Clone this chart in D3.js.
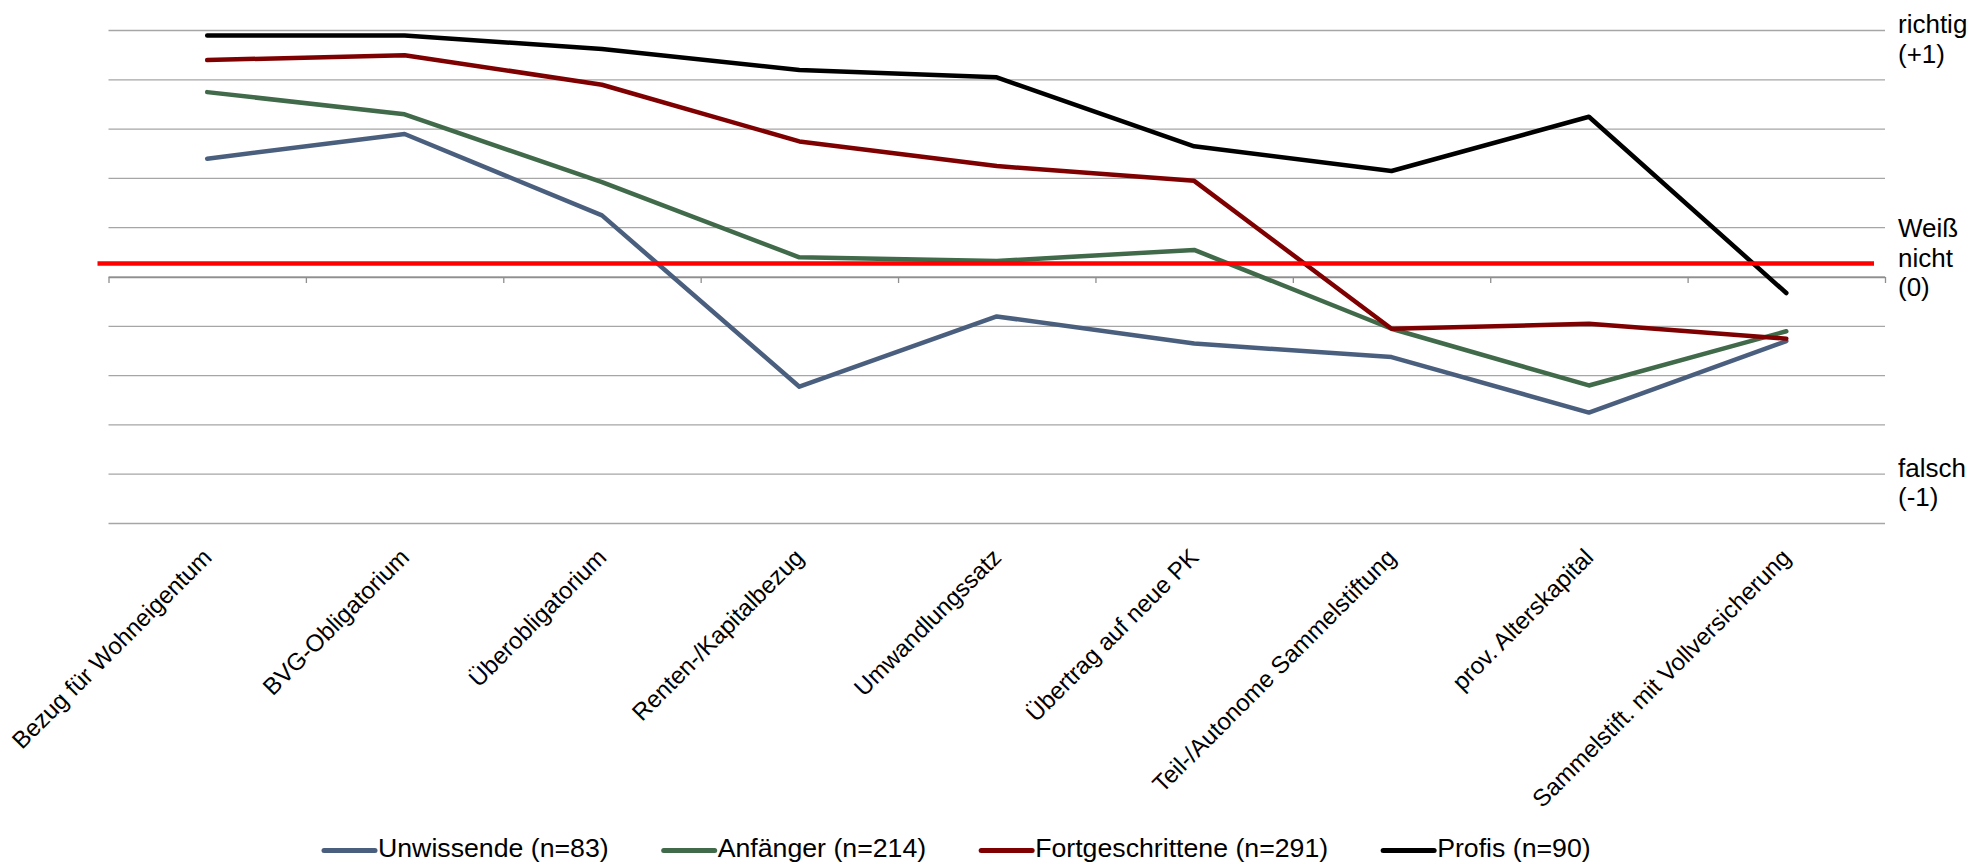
<!DOCTYPE html>
<html>
<head>
<meta charset="utf-8">
<script src="https://cdn.jsdelivr.net/npm/d3@7"></script>
<style>
  body { margin: 0; background: #fff; }
  text { font-family: "Liberation Sans", Arial, Helvetica, sans-serif; fill: #000; }
</style>
</head>
<body>
<svg id="chart" width="1987" height="864"></svg>
<script>
// ---------------- data ----------------
const categories = [
  "Bezug für Wohneigentum",
  "BVG-Obligatorium",
  "Überobligatorium",
  "Renten-/Kapitalbezug",
  "Umwandlungssatz",
  "Übertrag auf neue PK",
  "Teil-/Autonome Sammelstiftung",
  "prov. Alterskapital",
  "Sammelstift. mit Vollversicherung"
];
const seriesNames = ["Unwissende (n=83)", "Anfänger (n=214)", "Fortgeschrittene (n=291)", "Profis (n=90)"];
const unwissende       = [0.48, 0.58, 0.25, -0.445, -0.16, -0.27, -0.325, -0.55, -0.26];
const anfaenger        = [0.75, 0.66, 0.385, 0.08, 0.065, 0.11, -0.21, -0.44, -0.22];
const fortgeschrittene = [0.88, 0.90, 0.78, 0.55, 0.45, 0.39, -0.21, -0.19, -0.25];
const profis           = [0.98, 0.98, 0.925, 0.84, 0.81, 0.53, 0.43, 0.65, -0.065];
const yTickValues = [-1, -0.8, -0.6, -0.4, -0.2, 0, 0.2, 0.4, 0.6, 0.8, 1];
const referenceValue = 0.055;   // red "weiß nicht" line
const rightLabelLines = [["richtig", "(+1)"], ["Weiß", "nicht", "(0)"], ["falsch", "(-1)"]];

// ---------------- setup ----------------
const seriesValues = [unwissende, anfaenger, fortgeschrittene, profis];
const seriesColors = ["#4a5f7e", "#406a49", "#7f0000", "#000000"];

const svg = d3.select("#chart");
const plotLeft = 108.5, plotRight = 1885, plotTop = 30.5, plotBottom = 523.5;

const x = d3.scaleBand().domain(categories).range([plotLeft, plotRight]).padding(0);
const xEdge = d3.scaleLinear().domain([0, categories.length]).range([plotLeft, plotRight]);
const y = d3.scaleLinear().domain([-1, 1]).range([plotBottom, plotTop]);

// gridlines
svg.append("g")
  .selectAll("line")
  .data(yTickValues)
  .join("line")
  .attr("x1", plotLeft).attr("x2", plotRight)
  .attr("y1", d => y(d)).attr("y2", d => y(d))
  .attr("stroke", "#a6a6a6")
  .attr("stroke-width", 1.3);

// x axis at zero with ticks at category boundaries
const axis = svg.append("g")
  .attr("transform", `translate(0,${y(0)})`)
  .call(d3.axisBottom(xEdge)
    .tickValues(d3.range(categories.length + 1))
    .tickFormat("")
    .tickSize(6)
    .tickSizeOuter(0));
axis.select(".domain").attr("stroke", "#8f8f8f").attr("stroke-width", 1.5);
axis.selectAll(".tick line").attr("stroke", "#8f8f8f").attr("stroke-width", 1.3);

// category labels, rotated
svg.append("g")
  .selectAll("text")
  .data(categories)
  .join("text")
  .attr("transform", d => `translate(${x(d) + x.bandwidth() / 2},553) rotate(-45)`)
  .attr("text-anchor", "end")
  .attr("dy", "0.35em")
  .style("font-size", "24px")
  .text(d => d);

// series lines
const line = d3.line()
  .x((d, i) => x(categories[i]) + x.bandwidth() / 2)
  .y(d => y(d));

svg.append("g")
  .selectAll("path")
  .data(seriesValues)
  .join("path")
  .attr("d", d => line(d))
  .attr("fill", "none")
  .attr("stroke", (d, i) => seriesColors[i])
  .attr("stroke-width", 4.5)
  .attr("stroke-linecap", "round")
  .attr("stroke-linejoin", "round");

// red reference line
svg.append("line")
  .attr("x1", plotLeft - 11).attr("x2", plotRight - 11)
  .attr("y1", y(referenceValue)).attr("y2", y(referenceValue))
  .attr("stroke", "#ff0000")
  .attr("stroke-width", 4.5);

// right-hand labels
const labelBaselines = [y(1) + 2.5, y(0) - 40, y(-1) - 47];
const lineStep = 29.5;
rightLabelLines.forEach((lines, k) => {
  const t = svg.append("text")
    .attr("x", 1898)
    .attr("y", labelBaselines[k])
    .style("font-size", "26px");
  lines.forEach((s, j) => {
    t.append("tspan").attr("x", 1898).attr("y", labelBaselines[k] + j * lineStep).text(s);
  });
});

// legend
let lx = 322;
const ly = 850.5;
const legend = svg.append("g");
seriesNames.forEach((name, i) => {
  legend.append("line")
    .attr("x1", lx + 2).attr("x2", lx + 53)
    .attr("y1", ly).attr("y2", ly)
    .attr("stroke", seriesColors[i])
    .attr("stroke-width", 5)
    .attr("stroke-linecap", "round");
  const t = legend.append("text")
    .attr("x", lx + 56)
    .attr("y", ly + 6.5)
    .style("font-size", "26.7px")
    .text(name);
  const w = t.node().getComputedTextLength();
  lx = lx + 56 + w + 53;
});
</script>
</body>
</html>
